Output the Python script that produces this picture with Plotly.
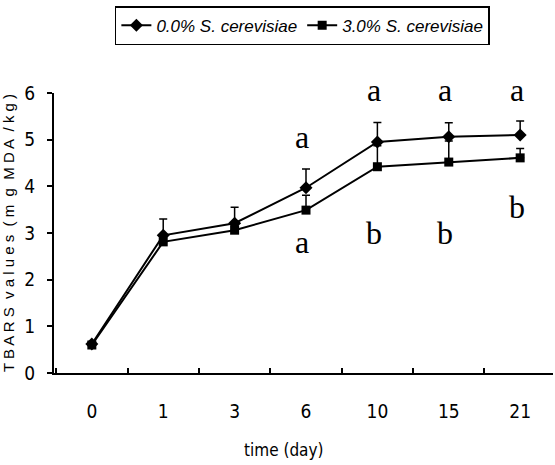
import plotly.graph_objects as go

days = ["0", "1", "3", "6", "10", "15", "21"]
ctrl = [0.62, 2.95, 3.21, 3.97, 4.95, 5.06, 5.10]
ctrl_err = [0.05, 0.35, 0.34, 0.40, 0.42, 0.30, 0.30]
yeast = [0.60, 2.81, 3.06, 3.49, 4.42, 4.52, 4.61]
yeast_err = [0.05, 0.10, 0.10, 0.32, 0.45, 0.45, 0.20]
series_names = ["0.0% S. cerevisiae", "3.0% S. cerevisiae"]

upper_days = ["6", "10", "15", "21"]
upper_letters = ["a", "a", "a", "a"]
upper_y = [5.05, 6.0, 6.0, 6.0]
lower_days = ["6", "10", "15", "21"]
lower_letters = ["a", "b", "b", "b"]
lower_y = [2.80, 3.00, 3.00, 3.55]

fig = go.Figure()
fig.add_trace(go.Scatter(
    x=days, y=ctrl, name=series_names[0], mode="lines+markers",
    line=dict(color="black", width=2),
    marker=dict(symbol="diamond", size=10, color="black"),
    error_y=dict(type="data", array=ctrl_err, arrayminus=[0]*len(days), symmetric=False,
                 color="black", thickness=1.5, width=4),
))
fig.add_trace(go.Scatter(
    x=days, y=yeast, name=series_names[1], mode="lines+markers",
    line=dict(color="black", width=2),
    marker=dict(symbol="square", size=9, color="black"),
    error_y=dict(type="data", array=yeast_err, arrayminus=[0]*len(days), symmetric=False,
                 color="black", thickness=1.5, width=4),
))

annos = []
for i, (d, t, y) in enumerate(zip(upper_days + lower_days, upper_letters + lower_letters, upper_y + lower_y)):
    shift = 3 if (i < len(upper_days) and y >= 6.0) else 0
    annos.append(dict(x=days.index(d) - 0.05, y=y, xref="x", yref="y", text=t, showarrow=False,
                      yshift=shift,
                      font=dict(family="Liberation Serif", size=32, color="black")))
annos.append(dict(x=(283 - 54) / 499, y=(373 - 450) / 280, xref="paper", yref="paper",
                  text="time (day)", showarrow=False, xanchor="center", yanchor="middle",
                  font=dict(family="DejaVu Sans Condensed", size=17, color="black")))

fig.update_layout(
    width=555, height=465,
    margin=dict(l=54, r=2, t=93, b=92),
    paper_bgcolor="white", plot_bgcolor="white",
    showlegend=True,
    legend=dict(orientation="h", x=0.122, y=1.31, xanchor="left", yanchor="top",
                bordercolor="black", borderwidth=1.5,
                font=dict(family="Liberation Sans", size=17, color="black", style="italic"),
                itemwidth=30, tracegroupgap=0),
    annotations=annos,
    xaxis=dict(type="category", range=[-0.53, 6.46], showline=True, linecolor="black", linewidth=2,
               ticks="inside", tickson="boundaries", ticklen=5, tickcolor="black", tickwidth=1.5,
               showgrid=False, zeroline=False, ticklabelstandoff=20,
               tickfont=dict(family="DejaVu Sans Condensed", size=19, color="black")),
    yaxis=dict(range=[0, 6], dtick=1, showline=True, linecolor="black", linewidth=2,
               ticks="outside", ticklen=5, tickcolor="black", tickwidth=1.5,
               showgrid=False, zeroline=False, ticklabelstandoff=8,
               tickfont=dict(family="DejaVu Sans Condensed", size=19, color="black"),
               title=dict(text="T B A R S  v a l u e s  ( m  g  M D A  / k g )", standoff=6,
                          font=dict(family="Liberation Sans", size=15, color="black"))),
)
fig.write_html("out.html")
